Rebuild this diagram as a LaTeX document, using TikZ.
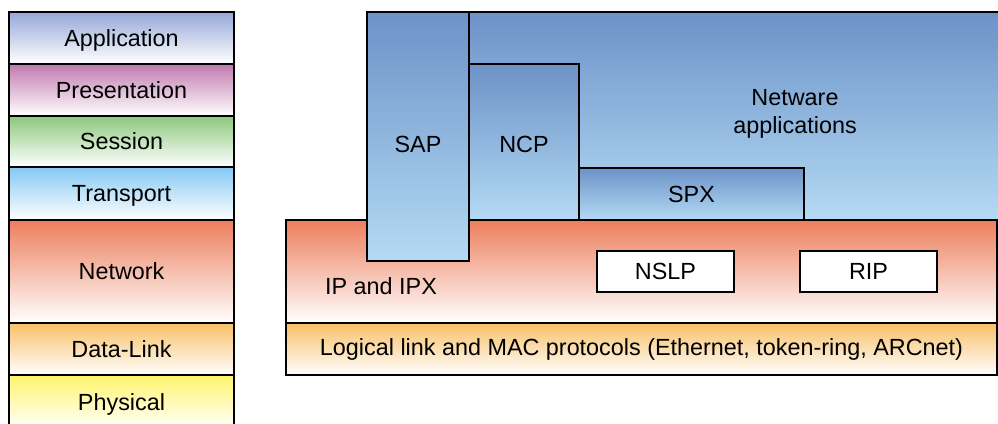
\documentclass[tikz,border=0pt]{standalone}
\usepackage{fontspec}
\setmainfont{Liberation Sans}
\usetikzlibrary{positioning}

\definecolor{apptop}{HTML}{96A8D8}
\definecolor{prestop}{HTML}{C07AAE}
\definecolor{sesstop}{HTML}{8CC87C}
\definecolor{transtop}{HTML}{84C8F4}
\definecolor{nettop}{HTML}{EC7E5C}
\definecolor{dltop}{HTML}{F8C068}
\definecolor{phystop}{HTML}{FFF46C}
\definecolor{nwtop}{HTML}{6C92C8}
\definecolor{nwbot}{HTML}{B4DAF4}

\begin{document}
\begin{tikzpicture}[
  x=0.2mm,
  y=-0.2mm,
  font=\fontsize{13.3}{16}\selectfont,
]

  \tikzstyle{layer}=[draw,rectangle,thick,inner sep=0pt,outer sep=0pt,minimum width=45mm,bottom color=white,text depth=0pt]
  \tikzstyle{nwbox}=[draw,rectangle,thick,inner sep=0pt,outer sep=0pt,anchor=north west,top color=nwtop,bottom color=nwbot]
  \tikzstyle{ipxbox}=[draw,rectangle,thick,inner sep=0pt,outer sep=0pt,anchor=north west,minimum width=142.2mm,bottom color=white]
  \tikzstyle{protnode}=[draw,rectangle,thick,fill=white,inner sep=0pt,outer sep=0pt,minimum width=27.4mm,minimum height=8.2mm,anchor=north west]
  \tikzstyle{textnode}=[inner sep=0pt,align=center]

  \useasboundingbox (0,0) rectangle (998,423);

  % OSI stack
  \node[layer,top color=apptop,minimum height=10.4mm,anchor=north west] (app) at (9,12) {Application};
  \node[layer,top color=prestop,minimum height=10.4mm] (pres) [below=0mm of app] {Presentation};
  \node[layer,top color=sesstop,minimum height=10.2mm] (sess) [below=0mm of pres] {Session};
  \node[layer,top color=transtop,minimum height=10.6mm] (trans) [below=0mm of sess] {Transport};
  \node[layer,top color=nettop,minimum height=20.6mm] (net) [below=0mm of trans] {Network};
  \node[layer,top color=dltop,minimum height=10.4mm] (dl) [below=0mm of net] {Data-Link};
  \node[layer,top color=phystop,minimum height=10.8mm] (phys) [below=0mm of dl] {Physical};

  % Netware stack
  \node[nwbox,minimum width=126.6mm,minimum height=41.6mm] (apps) at (367,12) {};
  \node[nwbox,minimum width=22mm,minimum height=31.2mm] (ncp) at (469,64) {};
  \node[nwbox,minimum width=45mm,minimum height=10.4mm] (spx) at (579,168) {SPX};
  \node[ipxbox,top color=nettop,minimum height=20.6mm] (ipx) at (286,220) {};
  \node[ipxbox,top color=dltop,minimum height=10.4mm] (llc) [below=0mm of ipx]
    {Logical link and MAC protocols (Ethernet, token-ring, ARCnet)};
  \node[nwbox,minimum width=20.4mm,minimum height=49.8mm] (sap) at (367,12) {};
  \node[protnode] (nslp) at (597,251) {NSLP};
  \node[protnode] (rip) [right=13.2mm of nslp] {RIP};

  % labels
  \node[textnode] (appsl) at (795,114) {Netware\\applications};
  \node[textnode] (sapl) at (418,144) {SAP};
  \node[textnode] (ncpl) at (524,144) {NCP};
  \node[textnode] (ipxl) at (381,286) {IP and IPX};

\end{tikzpicture}
\end{document}
